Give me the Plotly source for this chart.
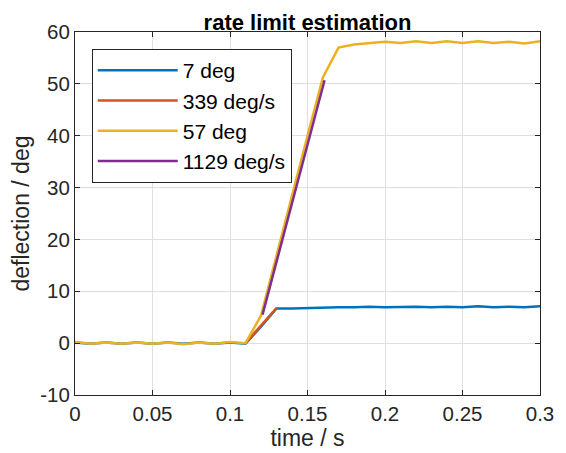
import plotly.graph_objects as go

t = [round(i * 0.01, 2) for i in range(31)]
blue_7deg = [0.1, -0.1, 0.1, -0.1, 0.1, -0.1, 0.1, -0.1, 0.1, -0.1, 0.1, -0.1,
             3.2, 6.7, 6.7, 6.8, 6.8, 6.9, 6.9, 7.0, 6.9, 7.0, 7.0, 6.9, 7.0, 6.9,
             7.1, 6.9, 7.0, 6.9, 7.1]
orange_t = [0.11, 0.13]
orange_339 = [0.0, 6.78]
yellow_57deg = [0.2, -0.1, 0.1, -0.1, 0.1, -0.1, 0.1, -0.2, 0.1, -0.1, 0.2, 0.0,
                5.3, 17.0, 28.5, 40.0, 51.3, 57.0, 57.6, 57.8, 58.1, 57.9, 58.2,
                57.9, 58.2, 57.9, 58.2, 57.9, 58.1, 57.8, 58.2]
purple_t = [0.121, 0.161]
purple_1129 = [5.5, 50.7]

x_ticks = [0, 0.05, 0.1, 0.15, 0.2, 0.25, 0.3]
x_labels = ["0", "0.05", "0.1", "0.15", "0.2", "0.25", "0.3"]
y_ticks = [-10, 0, 10, 20, 30, 40, 50, 60]
y_labels = ["-10", "0", "10", "20", "30", "40", "50", "60"]

FONT = "Liberation Sans, Arial, sans-serif"
fig = go.Figure()
fig.add_trace(go.Scatter(x=t, y=blue_7deg, mode="lines", name="7 deg",
                         line=dict(color="#0072BD", width=2.5)))
fig.add_trace(go.Scatter(x=orange_t, y=orange_339, mode="lines", name="339 deg/s",
                         line=dict(color="#D95319", width=2.5)))
fig.add_trace(go.Scatter(x=t, y=yellow_57deg, mode="lines", name="57 deg",
                         line=dict(color="#EDB120", width=2.5)))
fig.add_trace(go.Scatter(x=purple_t, y=purple_1129, mode="lines", name="1129 deg/s",
                         line=dict(color="#7E2F8E", width=2.5)))

axis_common = dict(showline=True, linecolor="#262626", linewidth=1, mirror="ticks",
                   ticks="inside", ticklen=5, tickcolor="#262626",
                   showgrid=True, gridcolor="#DFDFDF", gridwidth=1, zeroline=False,
                   tickfont=dict(family=FONT, size=20.5, color="#262626"))
fig.update_xaxes(range=[0, 0.3], tickvals=x_ticks, ticktext=x_labels,
                 title=dict(text="time / s", font=dict(family=FONT, size=23, color="#262626"),
                            standoff=0),
                 **axis_common)
fig.update_yaxes(range=[-10, 60], tickvals=y_ticks, ticktext=y_labels,
                 title=dict(text="deflection / deg", font=dict(family=FONT, size=23, color="#262626"),
                            standoff=4),
                 **axis_common)
fig.update_layout(
    width=566, height=453,
    margin=dict(l=75, r=22, t=32, b=56),
    paper_bgcolor="white", plot_bgcolor="white",
    title=dict(text="<b>rate limit estimation</b>", x=0.5, xanchor="center",
               xref="paper", y=1, yref="paper", yanchor="bottom", pad=dict(b=2),
               font=dict(family=FONT, size=22, color="black")),
    legend=dict(x=0.036, y=0.953, xanchor="left", yanchor="top",
                bgcolor="white", bordercolor="#262626", borderwidth=1,
                font=dict(family=FONT, size=21, color="black"),
                itemwidth=80, tracegroupgap=0),
    showlegend=True,
)
fig.write_html("out.html")
